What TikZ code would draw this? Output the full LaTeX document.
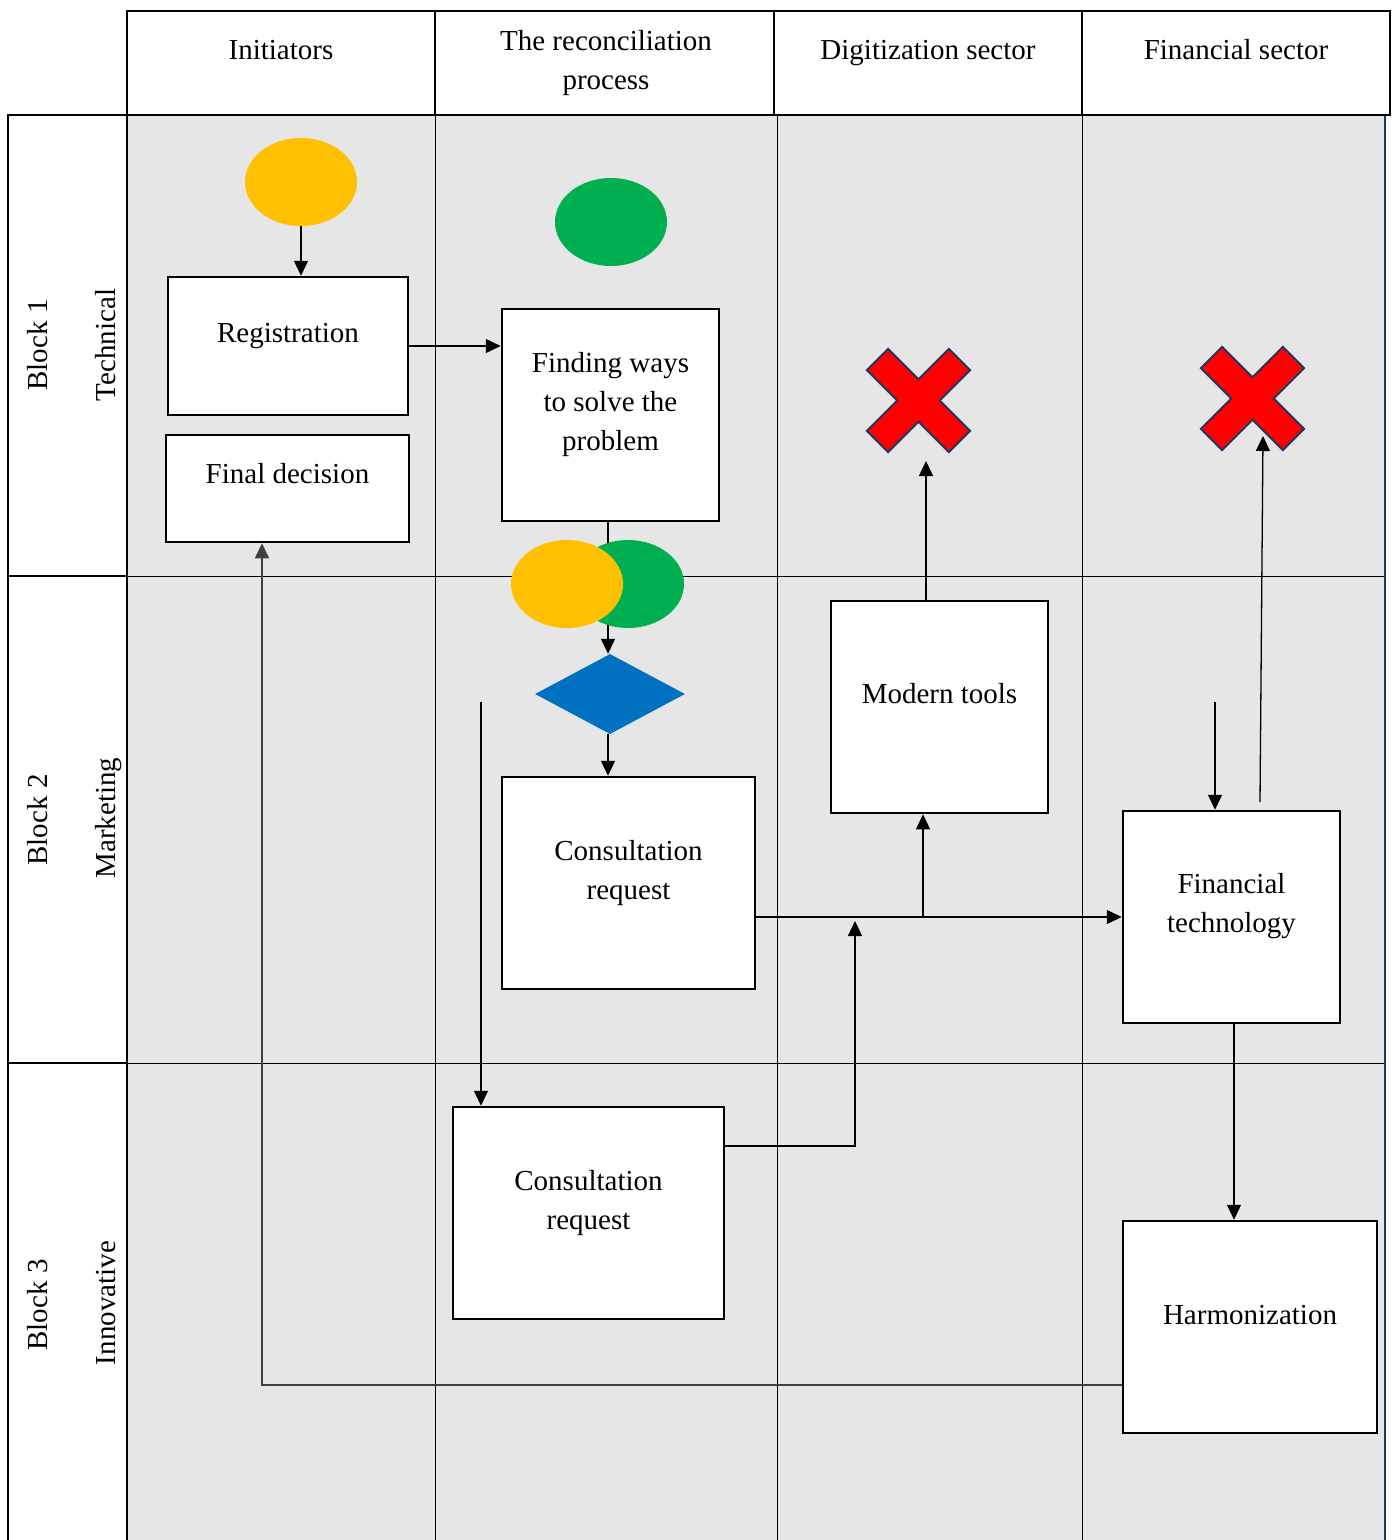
\documentclass[tikz,border=0pt]{standalone}
\usepackage{fontspec}
\setmainfont{Liberation Serif}
\usetikzlibrary{shapes.geometric,arrows.meta,calc}
\definecolor{bgray}{HTML}{E6E6E6}
\definecolor{cyell}{HTML}{FFC000}
\definecolor{cgreen}{HTML}{00B050}
\definecolor{cblue}{HTML}{0070C0}
\definecolor{cred}{HTML}{FF0000}
\definecolor{cnavy}{HTML}{1F3864}
\begin{document}
\begin{tikzpicture}[x=1pt,y=-1pt,
  txt/.style={font=\fontsize{29}{39}\selectfont, align=center, inner sep=0pt, anchor=base},
  rtxt/.style={font=\fontsize{29}{39}\selectfont, inner sep=0pt, anchor=base, rotate=90},
  box/.style={draw=black, line width=2.5pt, fill=white, inner sep=0pt},
  oval/.style={ellipse, inner sep=0pt, minimum width=112pt, minimum height=88pt, draw=none},
  arr/.style={line width=1.3pt, -{Triangle[length=15pt,width=14pt]}},
  gridline/.style={line width=1pt, black},
  frame/.style={line width=2.5pt, black},
  crossmark/.style={fill=cred, draw=cnavy, line width=2pt, line join=miter}]
\useasboundingbox (0,0) rectangle (1393,1540);
% background of body
\fill[bgray] (127,115) rectangle (1385,1540);
% grid inside body
\draw[gridline] (127,576) -- (1385,576);
\draw[gridline] (127,1063) -- (1385,1063);
\draw[gridline] (435,115) -- (435,1540);
\draw[gridline] (777,115) -- (777,1540);
\draw[gridline] (1082,115) -- (1082,1540);
\draw[line width=1.5pt, cnavy] (1385,115) -- (1385,1540);
% header
\draw[frame] (127,11) rectangle (1390,115);
\draw[frame] (435,11) -- (435,115);
\draw[frame] (774,11) -- (774,115);
\draw[frame] (1082,11) -- (1082,115);
% left label column
\draw[frame] (8,115) rectangle (127,576);
\draw[frame] (8,576) rectangle (127,1063);
\draw[frame] (8,1540) -- (8,1063) -- (127,1063) -- (127,1540);
% header texts (multi-line texts are placed by their last baseline)
\node[txt] (h1) at (281,59) {Initiators};
\node[txt] (h2) at (606,89) {The reconciliation\\process};
\node[txt] (h3) at (928,59) {Digitization sector};
\node[txt] (h4) at (1236,59) {Financial sector};
% row labels
\node[rtxt] (b1) at (47,345) {Block 1};
\node[rtxt] (r1) at (115,345) {Technical};
\node[rtxt] (b2) at (47,820) {Block 2};
\node[rtxt] (r2) at (115,818) {Marketing};
\node[rtxt] (b3) at (47,1305) {Block 3};
\node[rtxt] (r3) at (115,1303) {Innovative};
% shapes
\node[oval, fill=cyell] (ye) at (301,182) {};
\node[oval, fill=cgreen] (ge) at (611,222) {};
\node[box, minimum width=240pt, minimum height=138pt] (reg) at (288,346) {};
\node[txt] at (288,342) {Registration};
\node[box, minimum width=243pt, minimum height=107pt] (fd) at (287.5,488.5) {};
\node[txt] at (287.5,483) {Final decision};
\node[box, minimum width=217pt, minimum height=212pt] (fw) at (610.5,415) {};
\node[txt] at (610.5,450) {Finding ways\\to solve the\\problem};
\node[diamond, fill=cblue, inner sep=0pt, minimum width=150pt, minimum height=80pt] (dia) at (610,694) {};
% connector behind the overlapping ovals
\draw[arr] (fw.south -| 608,0) -- (dia.north -| 608,0);
\node[oval, fill=cgreen] (ge2) at (628,584) {};
\node[oval, fill=cyell] (ye2) at (567,584) {};
\node[box, minimum width=253pt, minimum height=212pt] (cr1) at (628.5,883) {};
\node[txt] at (628.5,899) {Consultation\\request};
\node[box, minimum width=217pt, minimum height=212pt] (mt) at (939.5,707) {};
\node[txt] at (939.5,703) {Modern tools};
\node[box, minimum width=217pt, minimum height=212pt] (ft) at (1231.5,917) {};
\node[txt] at (1231.5,932) {Financial\\technology};
\node[box, minimum width=271pt, minimum height=212pt] (cr2) at (588.5,1213) {};
\node[txt] at (588.5,1229) {Consultation\\request};
\node[box, minimum width=254pt, minimum height=212pt] (harm) at (1250,1327) {};
\node[txt] at (1250,1324) {Harmonization};
% red crosses
\coordinate (x1) at (918.5,400.5);
\coordinate (x2) at (1252.5,398.5);
\foreach \c in {x1,x2}{
  \begin{scope}[shift={(\c)}, rotate=45]
    \draw[crossmark] (58,15) -- (15,15) -- (15,58) -- (-15,58) -- (-15,15) -- (-58,15)
      -- (-58,-15) -- (-15,-15) -- (-15,-58) -- (15,-58) -- (15,-15) -- (58,-15) -- cycle;
  \end{scope}
}
% connectors
\draw[arr] (ye.south) -- (ye.south |- reg.north);
\draw[arr] (reg.east) -- (reg.east -| fw.west);
\draw[arr] (dia.south -| 608,0) -- (cr1.north -| 608,0);
\coordinate (c2a) at (481,702);
\draw[arr] (c2a) -- (c2a |- cr2.north);
\draw[arr] (cr1.east |- ft.west) -- (ft.west);
\coordinate (j1) at (923,917);
\draw[arr] (j1) -- (j1 |- mt.south);
\coordinate (c2b) at (855,1146);
\coordinate (c2c) at (855,921);
\draw[arr] (cr2.east |- c2b) -- (c2b) -- (c2c);
\coordinate (mtx) at (926,461);
\draw[arr] (mtx |- mt.north) -- (mtx);
\coordinate (f2a) at (1260,802);
\coordinate (f2b) at (1263,436);
\draw[arr] (f2a) -- (f2b);
\coordinate (f1a) at (1215,702);
\draw[arr] (f1a) -- (f1a |- ft.north);
\coordinate (fh) at (1234,1100);
\draw[arr] (ft.south -| fh) -- (harm.north -| fh);
\coordinate (hb) at (262,1385);
\draw[arr, line width=1.6pt, black!75] (harm.west |- hb) -- (hb) -- (hb |- fd.south);
\end{tikzpicture}
\end{document}
